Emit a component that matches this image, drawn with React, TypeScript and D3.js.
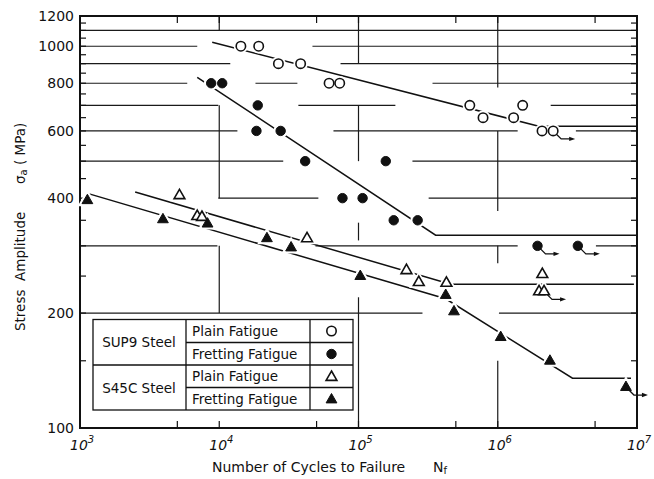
import React, { useEffect, useRef } from "react";
import * as d3 from "d3";

// SUP9 steel, plain fatigue (open circles)
const plainSup9N = [14300, 19200, 26600, 38400, 61500, 73300, 630000, 784000, 1300000, 1510000, 2080000, 2500000];
const plainSup9S = [1000, 1000, 900, 900, 800, 800, 700, 650, 650, 700, 600, 600];
const plainSup9Runout = [false, false, false, false, false, false, false, false, false, false, false, true];

// SUP9 steel, fretting fatigue (filled circles)
const fretSup9N = [8750, 10500, 18900, 18500, 27600, 41400, 157000, 76700, 107000, 179000, 266000, 1930000, 3760000];
const fretSup9S = [800, 800, 700, 600, 600, 500, 500, 400, 400, 350, 350, 300, 300];
const fretSup9Runout = [false, false, false, false, false, false, false, false, false, false, false, true, true];

// S45C steel, plain fatigue (open triangles)
const plainS45cN = [5180, 6950, 7510, 42700, 221000, 271000, 428000, 2090000, 1980000, 2150000];
const plainS45cS = [407, 359, 357, 314, 259, 241, 240, 253, 228, 228];
const plainS45cRunout = [false, false, false, false, false, false, false, false, false, true];

// S45C steel, fretting fatigue (filled triangles)
const fretS45cN = [1130, 3940, 8240, 22000, 32800, 103000, 423000, 485000, 1050000, 2370000, 8330000];
const fretS45cS = [395, 352, 343, 314, 297, 250, 223, 202, 173, 150, 128];
const fretS45cRunout = [false, false, false, false, false, false, false, false, false, false, true];

// S-N curves
const plainSup9LineN = [8900, 1970000, 1e7];
const plainSup9LineS = [1024, 617, 617];
const fretSup9LineN = [6950, 358000, 1e7];
const fretSup9LineS = [829, 320, 320];
const plainS45cLineN = [2490, 459000, 9.5e6];
const plainS45cLineS = [415, 238, 238];
const fretS45cLineN = [1148, 423000, 3440000, 9060000];
const fretS45cLineS = [411, 218, 135, 135];

// axis ticks
const xMajor = [1e3, 1e4, 1e5, 1e6, 1e7];
const xExponents = ["3", "4", "5", "6", "7"];
const xMinor = [5e3, 5e4, 5e5, 5e6];
const yLabels = [100, 200, 400, 600, 800, 1000, 1200];
const yMinor = d3.range(150, 1200, 50);

// broken grid lines of the original drawing: [stress, fromN, toN]
const gridH = [
  [1100, 1e3, 1e7],
  [1000, 1e3, 6950], [1000, 46700, 1e7],
  [900, 1e3, 12000], [900, 74300, 1e7],
  [800, 1e3, 5890], [800, 18200, 36400], [800, 340000, 1e7],
  [700, 1e3, 9840], [700, 37000, 184000], [700, 2400000, 1e7],
  [600, 1e3, 13500], [600, 66100, 1390000], [600, 3640000, 1e7],
  [500, 1e3, 28800], [500, 244000, 1e7],
  [400, 9840, 51500], [400, 319000, 1e7],
  [300, 1e3, 9700], [300, 49100, 1390000], [300, 5070000, 1e7],
  [200, 1e3, 288000], [200, 1020000, 1e7],
];
// [N, fromS, toS]
const gridV = [
  [1e4, 1100, 1200], [1e4, 400, 700], [1e4, 200, 300],
  [1e5, 900, 1200], [1e5, 500, 700], [1e5, 310, 345], [1e5, 100, 220],
  [1e6, 780, 1200], [1e6, 370, 600], [1e6, 270, 300], [1e6, 100, 150],
];

const legendSteels = ["SUP9 Steel", "S45C Steel"];
const legendTests = ["Plain Fatigue", "Fretting Fatigue", "Plain Fatigue", "Fretting Fatigue"];
const legendMarks = ["circleOpen", "circleFilled", "triOpen", "triFilled"];

const FONT = "DejaVu Sans";

const App = () => {
  const ref = useRef<SVGSVGElement>(null);

  useEffect(() => {
    const svg = d3.select(ref.current);
    svg.selectAll("*").remove();

    const x = d3.scaleLog().domain([1e3, 1e7]).range([80, 637]);
    const y = d3.scaleLog().domain([100, 1200]).range([428, 16]);

    svg.append("rect").attr("width", 654).attr("height", 479).attr("fill", "white");

    // grid
    const grid = svg.append("g").attr("stroke", "#1a1a1a").attr("stroke-width", 1.2);
    gridH.forEach(([s, n1, n2]) => {
      grid.append("line").attr("x1", x(n1)).attr("x2", x(n2)).attr("y1", y(s)).attr("y2", y(s));
    });
    gridV.forEach(([n, s1, s2]) => {
      grid.append("line").attr("x1", x(n)).attr("x2", x(n)).attr("y1", y(s1)).attr("y2", y(s2));
    });

    // ticks, inward on all four sides
    const ticks = svg.append("g").attr("stroke", "#111").attr("stroke-width", 1.2);
    yMinor.forEach((s) => {
      ticks.append("line").attr("x1", 80).attr("x2", 86).attr("y1", y(s)).attr("y2", y(s));
      ticks.append("line").attr("x1", 637).attr("x2", 631).attr("y1", y(s)).attr("y2", y(s));
    });
    [...xMinor, 1e4, 1e5, 1e6].forEach((n) => {
      ticks.append("line").attr("x1", x(n)).attr("x2", x(n)).attr("y1", 428).attr("y2", 421);
      ticks.append("line").attr("x1", x(n)).attr("x2", x(n)).attr("y1", 16).attr("y2", 23);
    });

    // frame
    svg.append("rect")
      .attr("x", 80).attr("y", 16)
      .attr("width", 557).attr("height", 412)
      .attr("fill", "none").attr("stroke", "#111").attr("stroke-width", 2);

    // S-N curves
    const line = d3.line<[number, number]>().x((d) => x(d[0])).y((d) => y(d[1]));
    const curves = [
      [plainSup9LineN, plainSup9LineS],
      [fretSup9LineN, fretSup9LineS],
      [plainS45cLineN, plainS45cLineS],
      [fretS45cLineN, fretS45cLineS],
    ];
    curves.forEach(([ns, ss]) => {
      svg.append("path")
        .attr("d", line(ns.map((n, i) => [n, ss[i]] as [number, number])))
        .attr("fill", "none").attr("stroke", "#111").attr("stroke-width", 1.5);
    });

    const tri = "M0,-6 L5.4,3.4 L-5.4,3.4 Z";
    const drawMark = (g, kind, cx, cy, halo) => {
      const open = kind.endsWith("Open");
      const el = kind.startsWith("circle")
        ? g.append("circle").attr("cx", cx).attr("cy", cy).attr("r", 4.7)
        : g.append("path").attr("d", tri).attr("transform", `translate(${cx},${cy})`);
      if (halo) {
        el.attr("fill", "white").attr("stroke", "white").attr("stroke-width", 5);
      } else {
        el.attr("fill", open ? "white" : "#111").attr("stroke", "#111").attr("stroke-width", open ? 1.6 : 1);
      }
    };

    const series = [
      { ns: plainSup9N, ss: plainSup9S, run: plainSup9Runout, kind: "circleOpen" },
      { ns: fretSup9N, ss: fretSup9S, run: fretSup9Runout, kind: "circleFilled" },
      { ns: plainS45cN, ss: plainS45cS, run: plainS45cRunout, kind: "triOpen" },
      { ns: fretS45cN, ss: fretS45cS, run: fretS45cRunout, kind: "triFilled" },
    ];

    const marks = svg.append("g");
    series.forEach((sr) => {
      sr.ns.forEach((n, i) => drawMark(marks, sr.kind, x(n), y(sr.ss[i]), true));
    });
    series.forEach((sr) => {
      sr.ns.forEach((n, i) => {
        const cx = x(n);
        const cy = y(sr.ss[i]);
        if (sr.run[i]) {
          // run-out hook with arrow
          marks.append("path")
            .attr("d", `M${cx + 3},${cy + 3} L${cx + 8},${cy + 8} L${cx + 19},${cy + 8}`)
            .attr("fill", "none").attr("stroke", "#111").attr("stroke-width", 1.3);
          marks.append("path")
            .attr("d", `M${cx + 22},${cy + 8} L${cx + 16},${cy + 5.8} L${cx + 16},${cy + 10.2} Z`)
            .attr("fill", "#111");
        }
        drawMark(marks, sr.kind, cx, cy, false);
      });
    });

    // legend table
    const lg = svg.append("g").attr("stroke", "#111").attr("stroke-width", 1.3);
    lg.append("rect").attr("x", 93).attr("y", 319.5).attr("width", 260).attr("height", 90.5).attr("fill", "white");
    lg.append("line").attr("x1", 186).attr("x2", 186).attr("y1", 319.5).attr("y2", 410);
    lg.append("line").attr("x1", 310).attr("x2", 310).attr("y1", 319.5).attr("y2", 410);
    lg.append("line").attr("x1", 93).attr("x2", 353).attr("y1", 365).attr("y2", 365);
    lg.append("line").attr("x1", 186).attr("x2", 353).attr("y1", 342.5).attr("y2", 342.5);
    lg.append("line").attr("x1", 186).attr("x2", 353).attr("y1", 387.5).attr("y2", 387.5);

    const rowY = [331, 354, 376.5, 399];
    legendSteels.forEach((name, i) => {
      svg.append("text")
        .attr("x", 139).attr("y", 342.5 + i * 45.5).attr("dy", "0.36em")
        .attr("text-anchor", "middle")
        .style("font-family", FONT).style("font-size", "13.5px").style("fill", "#111")
        .text(name);
    });
    legendTests.forEach((t, i) => {
      svg.append("text")
        .attr("x", 192).attr("y", rowY[i]).attr("dy", "0.36em")
        .style("font-family", FONT).style("font-size", "13.5px").style("fill", "#111")
        .text(t);
      drawMark(svg, legendMarks[i], 331.5, rowY[i] + (legendMarks[i].startsWith("tri") ? 0.5 : 0), false);
    });

    // y tick labels
    yLabels.forEach((s) => {
      svg.append("text")
        .attr("x", 74).attr("y", y(s)).attr("dy", "0.36em")
        .attr("text-anchor", "end")
        .style("font-family", FONT).style("font-size", "14px").style("fill", "#111")
        .text(s);
    });

    // x tick labels, 10 with superscript
    xMajor.forEach((n, i) => {
      const t = svg.append("text")
        .attr("x", x(n) - 10).attr("y", 450)
        .style("font-family", FONT).style("font-size", "14px").style("font-style", "italic").style("fill", "#111");
      t.append("tspan").text("10");
      t.append("tspan").attr("dy", -7).style("font-size", "10px").text(xExponents[i]);
    });

    // axis titles
    const xt = svg.append("text")
      .attr("x", 212).attr("y", 472)
      .style("font-family", FONT).style("font-size", "14px").style("fill", "#111");
    xt.append("tspan").text("Number of Cycles to Failure");
    xt.append("tspan").attr("x", 433).text("N");
    xt.append("tspan").attr("dy", 2).style("font-size", "10px").text("f");

    svg.append("text")
      .attr("transform", "translate(25,331) rotate(-90)")
      .style("font-family", FONT).style("font-size", "13.5px").style("fill", "#111")
      .attr("xml:space", "preserve")
      .text("Stress  Amplitude");
    const yt = svg.append("text")
      .attr("transform", "translate(25,184) rotate(-90)")
      .style("font-family", FONT).style("font-size", "13.5px").style("fill", "#111");
    yt.append("tspan").text("σ");
    yt.append("tspan").attr("dy", 2).style("font-size", "10px").text("a");
    yt.append("tspan").attr("dy", -2).text(" ( MPa)");
  }, []);

  return (
    <svg
      ref={ref}
      width={654}
      height={479}
      style={{ position: "absolute", left: 0, top: 0, background: "white" }}
    />
  );
};

export default App;
